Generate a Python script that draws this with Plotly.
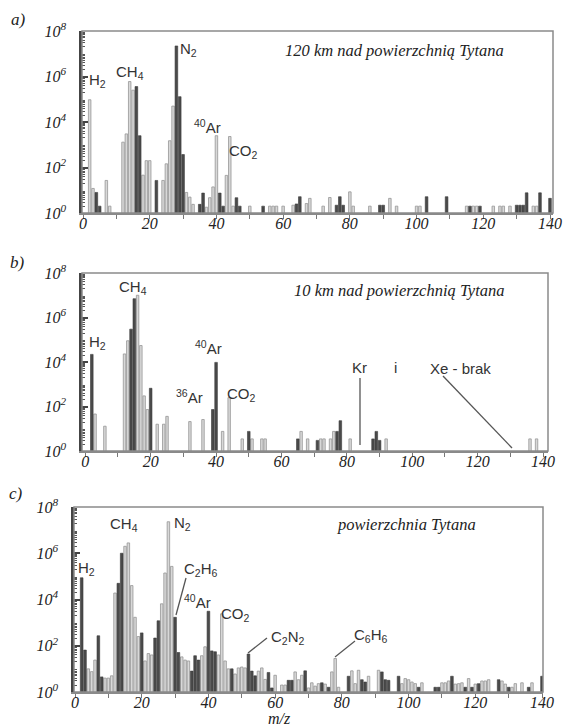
import plotly.graph_objects as go

# ---------------- data (m/z, intensity) ----------------
# panel a) 120 km
A_LIGHT_MZ = [2, 3, 7, 8, 12, 13, 14, 15, 18, 19, 20, 24, 25, 26, 27, 31, 32, 33, 37, 38, 39, 40, 43, 44, 45,
              50, 56, 57, 58, 60, 63, 67, 68, 72, 74, 80, 81, 86, 92, 94, 100, 101, 115, 117, 118, 123, 125,
              126, 128, 135, 136]
A_LIGHT_VAL = [9.5e4, 12, 27, 2, 1300, 3000, 6e5, 2.5e5, 46, 200, 200, 27, 145, 1500, 5e4, 8, 5, 2.4, 1.8,
               4.7, 14, 2500, 45, 2300, 2, 2, 2, 2, 2, 2, 2.2, 2.6, 4.4, 2, 4.8, 8.5, 2, 2, 4.4, 2, 2, 2, 2,
               2, 2, 2, 2, 2, 2, 2, 2]
A_DARK_MZ = [4, 5, 16, 17, 22, 28, 29, 30, 35, 36, 41, 42, 46, 47, 54, 64, 65, 76, 77, 78, 89, 90, 103, 109,
             116, 119, 130, 131, 132, 133, 137, 140]
A_DARK_VAL = [8, 2, 3.6e5, 2500, 27, 2.2e7, 1.3e5, 370, 2.4, 7.5, 7.5, 2, 4.7, 2, 2, 2.5, 5.2, 2.2, 5.2, 2.2,
              2.2, 2.2, 5.2, 5.2, 2, 2, 2.2, 2.2, 2.2, 7.7, 7.7, 4.4]

# panel b) 10 km
B_LIGHT_MZ = [3, 6, 12, 13, 16, 17, 18, 19, 22, 24, 25, 32, 36, 42, 44, 48, 51, 54, 55, 66, 68, 72, 73, 75,
              76, 81, 92, 136, 138]
B_LIGHT_VAL = [46, 13, 2.3e4, 9e4, 1e7, 5.5e4, 300, 73, 16, 16, 36, 21, 26, 7.6, 250, 3.5, 3.5, 3.5, 3.5,
               7.6, 3.5, 3.5, 3.5, 3.5, 7.6, 3.5, 3.5, 3.5, 3.5]
B_DARK_MZ = [2, 14, 15, 20, 39, 40, 50, 65, 71, 77, 78, 88, 89, 90]
B_DARK_VAL = [2.2e4, 3e5, 7e6, 660, 73, 9.6e3, 7.6, 3.5, 3, 7.6, 23, 3.5, 7.6, 3]

# panel c) surface
C_LIGHT_MZ = [4, 5, 6, 9, 10, 11, 12, 15, 16, 17, 18, 19, 21, 22, 23, 26, 27, 28, 29, 32, 33, 34, 38, 39,
              43, 44, 45, 46, 48, 49, 50, 51, 55, 56, 57, 60, 62, 63, 66, 67, 68, 70, 71, 72, 73, 75, 77,
              78, 79, 83, 84, 85, 88, 91, 98, 99, 100, 101, 102, 104, 110, 111, 112, 114, 115, 116, 118,
              120, 122, 123, 124, 128, 129, 131, 132, 134, 137]
C_LIGHT_VAL = [10, 7.6, 24, 4, 4, 5, 1.9e4, 2e6, 2.8e6, 4e4, 1.7e3, 250, 22, 46, 40, 6.5e3, 1.4e5, 2.3e7,
               2.7e5, 33, 24, 22, 37, 90, 40, 2.4e3, 22, 10, 6, 11, 12, 11, 8, 11, 3.5, 5.3, 2, 2, 7.4,
               3.4, 5.3, 1.5, 2.5, 1.8, 2.3, 2.2, 7.4, 28, 1.6, 8.2, 2.3, 8.7, 4.8, 8.7, 2.3, 3.8, 3.4,
               2.7, 2.3, 2.5, 2.5, 2.5, 3, 2.2, 2.3, 2.5, 3.8, 2.2, 3, 3, 3.4, 3, 2.2, 1.6, 2.3, 2.5, 2.5]
C_DARK_MZ = [2, 3, 7, 8, 13, 14, 20, 24, 25, 30, 31, 35, 36, 37, 40, 41, 42, 47, 52, 53, 54, 58, 59, 64,
             65, 69, 74, 76, 82, 86, 87, 92, 93, 94, 97, 103, 108, 109, 113, 117, 119, 121, 127, 130, 136,
             140]
C_DARK_VAL = [8.7e4, 65, 270, 4.5, 5e4, 1e6, 360, 215, 1.2e3, 1.7e3, 51, 8, 37, 24, 3.1e3, 60, 55, 10, 44,
              8, 5, 7, 1.5, 3.2, 3.2, 8.2, 2.5, 1.6, 4.8, 3.4, 2.7, 7.4, 3.4, 3.2, 4.8, 1.6, 1.6, 1.6,
              4.8, 1.6, 1.6, 2.3, 3.4, 1.6, 1.6, 4.8]

X_TICKS = [0, 20, 40, 60, 80, 100, 120, 140]
Y_TICKS = [1, 1e2, 1e4, 1e6, 1e8]
Y_TICKTEXT = ["10<sup>0</sup>", "10<sup>2</sup>", "10<sup>4</sup>", "10<sup>6</sup>", "10<sup>8</sup>"]

# ---------------- layout geometry (window pixels) ----------------
W, H = 563, 727


def px(x):
    return x / W


def py(y):
    return 1 - y / H


panels = [
    # (xaxis id, yaxis id, left, right, top, bottom, x-range)
    ("x", "y", 82, 553, 31, 213, [-0.3, 140.9]),
    ("x2", "y2", 82, 548, 273, 451, [-1.0, 141.5]),
    ("x3", "y3", 74, 543, 507, 692, [-0.3, 140.3]),
]
data_sets = [
    (A_LIGHT_MZ, A_LIGHT_VAL, A_DARK_MZ, A_DARK_VAL),
    (B_LIGHT_MZ, B_LIGHT_VAL, B_DARK_MZ, B_DARK_VAL),
    (C_LIGHT_MZ, C_LIGHT_VAL, C_DARK_MZ, C_DARK_VAL),
]

fig = go.Figure()
LIGHT_FILL, LIGHT_LINE = "#d8d8d8", "#959595"
DARK_FILL = "#4a4a4a"

for (xa, ya, *_), (lmz, lv, dmz, dv) in zip(panels, data_sets):
    fig.add_trace(go.Bar(x=lmz, y=lv, xaxis=xa, yaxis=ya, width=0.75,
                         marker=dict(color=LIGHT_FILL, line=dict(color=LIGHT_LINE, width=0.8))))
    fig.add_trace(go.Bar(x=dmz, y=dv, xaxis=xa, yaxis=ya, width=0.8,
                         marker=dict(color=DARK_FILL, line=dict(color="#3a3a3a", width=0.6))))

serif = "Liberation Serif"
sans = "Liberation Sans"
layout = dict(
    width=W, height=H, autosize=False,
    margin=dict(l=0, r=0, t=0, b=0, pad=0, autoexpand=False),
    paper_bgcolor="white", plot_bgcolor="white", showlegend=False, barmode="overlay",
)
minor_vals = [m * 10 ** k for k in range(8) for m in range(2, 10)]
shapes = []
for i, (xa, ya, l, r, t, b, xr) in enumerate(panels):
    xkey = "xaxis" if xa == "x" else "xaxis" + xa[1:]
    ykey = "yaxis" if ya == "y" else "yaxis" + ya[1:]
    layout[xkey] = dict(
        domain=[px(l), px(r)], anchor=ya, range=xr, automargin=False,
        tickmode="array", tickvals=X_TICKS, ticktext=[str(v) for v in X_TICKS], ticks="",
        ticklabelstandoff=-5,
        minor=dict(tickmode="array", tickvals=list(range(0, 141, 10)), ticks="outside",
                   ticklen=4, tickwidth=1.2, tickcolor="#777", showgrid=False),
        showline=True, linecolor="#8a8a8a", linewidth=1.5, showgrid=False, zeroline=False,
        tickfont=dict(family=serif, size=16, color="#222", style="italic"),
    )
    layout[ykey] = dict(
        domain=[py(b), py(t)], anchor=xa, type="log", range=[0, 8], automargin=False,
        tickmode="array", tickvals=Y_TICKS, ticktext=Y_TICKTEXT,
        ticks="inside", ticklen=6, tickwidth=1.5, tickcolor="#444",
        minor=dict(tickmode="array", tickvals=minor_vals, ticks="inside", ticklen=3,
                   tickwidth=1, tickcolor="#555", showgrid=False),
        showline=True, linecolor="#444", linewidth=2.5, showgrid=False, zeroline=False,
        ticklabelstandoff=10,
        tickfont=dict(family=serif, size=16, color="#222", style="italic"),
    )
    shapes.append(dict(type="rect", xref=f"{xa} domain", yref=f"{ya} domain", x0=0, x1=1, y0=0, y1=1,
                       line=dict(color="#8a8a8a", width=1.5), layer="above"))

# leader lines (window pixel positions)
lines = [
    (360, 378, 360, 445),   # Kr
    (443, 376, 512, 448),   # Xe
    (186, 578, 176, 615),   # C2H6
    (267, 638, 248, 653),   # C2N2
    (355, 641, 335, 657),   # C6H6
]
for x0, y0, x1, y1 in lines:
    shapes.append(dict(type="line", xref="paper", yref="paper", x0=px(x0), y0=py(y0), x1=px(x1), y1=py(y1),
                       line=dict(color="#555", width=1.3)))
layout["shapes"] = shapes

ann = []


def add_text(text, x, y, family, size, italic=False, color="#222"):
    ann.append(dict(text=text, x=px(x), y=py(y), xref="paper", yref="paper", showarrow=False,
                    xanchor="center", yanchor="middle",
                    font=dict(family=family, size=size, color=color, style="italic" if italic else "normal")))


for t, x, y in [("a)", 18, 19), ("b)", 17, 262), ("c)", 16, 493)]:
    add_text(t, x, y, serif, 17, True)
for t, x, y in [("120 km nad powierzchnią Tytana", 394, 51), ("10 km nad powierzchnią Tytana", 399, 290),
                ("powierzchnia Tytana", 406, 524)]:
    add_text(t, x, y, serif, 16.5, True)
add_text("m/z", 279, 718, serif, 16, True)

species = [
    ("H<sub>2</sub>", 97, 80), ("CH<sub>4</sub>", 130, 73), ("N<sub>2</sub>", 188, 50),
    ("<sup>40</sup>Ar", 207, 127), ("CO<sub>2</sub>", 243, 152),
    ("H<sub>2</sub>", 97, 342), ("CH<sub>4</sub>", 133, 288), ("<sup>40</sup>Ar", 208, 348),
    ("<sup>36</sup>Ar", 189, 396), ("CO<sub>2</sub>", 241, 394), ("Kr", 359, 367), ("i", 395, 367),
    ("Xe - brak", 460, 368),
    ("H<sub>2</sub>", 86, 568), ("CH<sub>4</sub>", 124, 524), ("N<sub>2</sub>", 182, 523),
    ("C<sub>2</sub>H<sub>6</sub>", 201, 569), ("<sup>40</sup>Ar", 197, 601), ("CO<sub>2</sub>", 235, 614),
    ("C<sub>2</sub>N<sub>2</sub>", 288, 637), ("C<sub>6</sub>H<sub>6</sub>", 371, 635),
]
for t, x, y in species:
    add_text(t, x, y, sans, 15, False, "#333")
layout["annotations"] = ann

fig.update_layout(**layout)
# remove the default 8px page margin so the figure fills the window exactly
fig.write_html("out.html", config={"displayModeBar": False},
               post_script="document.body.style.margin='0';document.body.style.overflow='hidden';")
